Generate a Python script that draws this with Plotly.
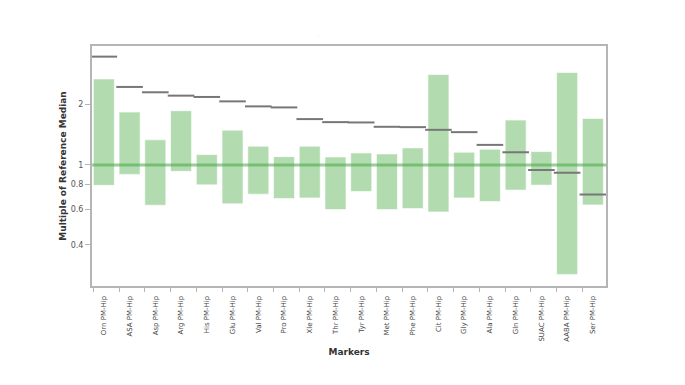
import plotly.graph_objects as go

markers = ["Orn PM-Hip", "ASA PM-Hip", "Asp PM-Hip", "Arg PM-Hip", "His PM-Hip",
           "Glu PM-Hip", "Val PM-Hip", "Pro PM-Hip", "Xle PM-Hip", "Thr PM-Hip",
           "Tyr PM-Hip", "Met PM-Hip", "Phe PM-Hip", "Cit PM-Hip", "Gly PM-Hip",
           "Ala PM-Hip", "Gln PM-Hip", "SUAC PM-Hip", "AABA PM-Hip", "Ser PM-Hip"]
range_low = [0.792, 0.898, 0.631, 0.930, 0.797, 0.641, 0.716, 0.681, 0.686, 0.600,
             0.738, 0.600, 0.607, 0.584, 0.686, 0.658, 0.750, 0.794, 0.285, 0.633]
range_high = [2.68, 1.834, 1.334, 1.862, 1.126, 1.49, 1.24, 1.10, 1.24, 1.096,
              1.148, 1.135, 1.216, 2.818, 1.157, 1.198, 1.673, 1.166, 2.884, 1.705]
median = [3.46, 2.445, 2.30, 2.213, 2.18, 2.073, 1.957, 1.934, 1.692, 1.634,
          1.628, 1.549, 1.543, 1.496, 1.457, 1.259, 1.157, 0.944, 0.915, 0.713]
y_ticks = [0.4, 0.6, 0.8, 1, 2]

pos = list(range(len(markers)))
bar_w = 0.816
x_range = [-0.46, len(markers) - 1 + 0.51]

fig = go.Figure()
fig.add_trace(go.Bar(
    x=pos,
    y=[h - l for h, l in zip(range_high, range_low)],
    base=range_low,
    width=bar_w,
    marker=dict(color="#b3dbb0", line=dict(color="rgba(255,255,255,0.6)", width=1)),
    hoverinfo="skip", showlegend=False,
))
fig.add_trace(go.Scatter(
    x=pos, y=median, mode="markers",
    marker=dict(symbol="line-ew-open", size=19, color="#777777",
                line=dict(color="#777777", width=2)),
    showlegend=False,
))
fig.add_shape(type="line", xref="paper", x0=0, x1=1, yref="y", y0=1, y1=1,
              line=dict(color="rgba(70,165,70,0.55)", width=3), layer="above")

fig.update_layout(
    width=685, height=385,
    margin=dict(l=92, r=79, t=46, b=99),
    paper_bgcolor="white", plot_bgcolor="white",
    font=dict(family="DejaVu Sans, Verdana, sans-serif", size=8, color="#444"),
    annotations=[dict(text=".", x=0.44, y=1.07, xref="paper", yref="paper",
                      showarrow=False, font=dict(size=5, color="#bbb"))],
    xaxis=dict(
        range=x_range, tickvals=pos, ticktext=markers, tickangle=-90,
        showline=True, linecolor="#b5b5b5", linewidth=2, mirror=True,
        ticks="outside", ticklen=5, tickcolor="rgba(0,0,0,0)",
        tickfont=dict(size=7, color="#444"),
        showgrid=False, zeroline=False,
        title=dict(text="<b>Markers</b>", font=dict(size=9, color="#333"), standoff=8),
    ),
    xaxis2=dict(
        overlaying="x", anchor="y", side="bottom", range=x_range,
        tickvals=[p - bar_w / 2 for p in pos], showticklabels=False,
        ticks="outside", ticklen=5, tickcolor="#b5b5b5",
        showgrid=False, zeroline=False, showline=False,
    ),
    yaxis=dict(
        type="log", range=[-0.602, 0.592],
        tickvals=y_ticks, ticktext=[str(v) for v in y_ticks],
        showline=True, linecolor="#b5b5b5", linewidth=2, mirror=True,
        ticks="outside", ticklen=5, tickcolor="#b5b5b5",
        tickfont=dict(size=8, color="#555"),
        showgrid=False, zeroline=False,
        title=dict(text="<b>Multiple of Reference Median</b>", font=dict(size=9, color="#333"), standoff=3),
    ),
)
# invisible trace so the tick-only overlay axis is drawn
fig.add_trace(go.Scatter(x=[pos[0]], y=[1], xaxis="x2", mode="markers",
                         marker=dict(opacity=0), hoverinfo="skip", showlegend=False))

fig.write_html("out.html", config={"displayModeBar": False},
               post_script="document.body.style.margin='0px';")
